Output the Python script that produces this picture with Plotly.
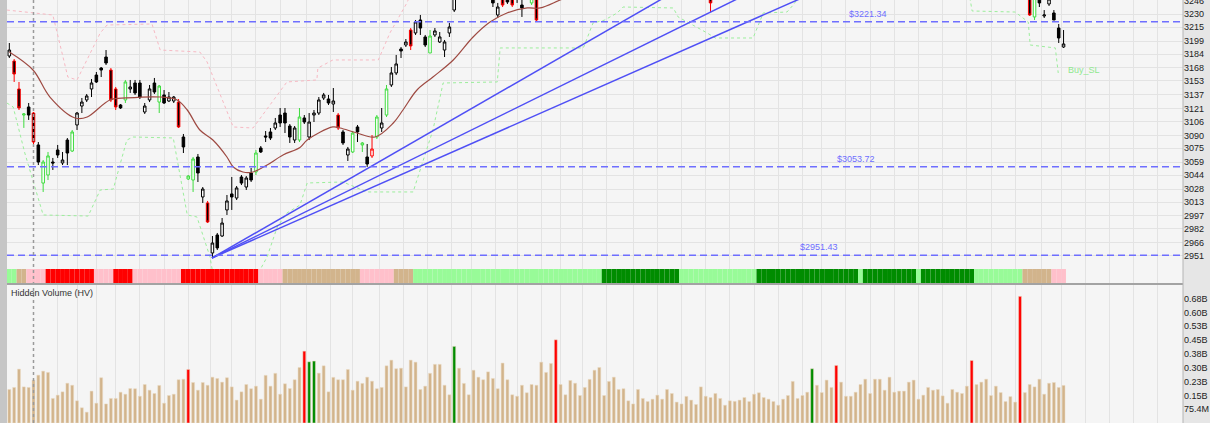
import plotly.graph_objects as go

# price bars, one value per bar; None = bar sits above the visible price range
opens = [
    3181.7, 3175.9, 3143.6, 3113.5, 3122.8, 3115.8, 3078.9, 3034.9, 3044.2, 3059.2,
    3073.1, 3058.1, 3084.6, 3071.9, 3102.0, 3123.9, 3130.9, 3143.6, 3159.7, 3167.8,
    3180.5, 3165.5, 3143.6, 3125.1, 3130.9, 3143.6, 3150.5, 3150.5, 3117.0, 3130.9,
    3150.5, 3128.5, 3136.7, 3129.7, 3129.7, 3128.5, 3088.1, 3039.6, 3038.4, 3065.0,
    3018.8, 3011.9, 2954.1, 2974.9, 2973.7, 3003.8, 3022.3, 3017.6, 3041.9, 3030.3,
    3046.5, 3047.7, 3075.4, 3089.3, 3093.9, 3098.5, 3113.5, 3115.8, 3100.8, 3084.6,
    3084.6, 3110.1, 3088.1, 3113.5, 3115.8, 3133.2, 3132.0, 3126.2, 3113.5, 3093.9,
    3067.3, 3070.8, 3099.7, 3078.9, 3065.0, 3066.2, 3088.1, 3098.5, 3113.5, 3148.2,
    3162.1, 3189.8, 3194.4, 3211.7, 3208.3, 3223.3, 3203.7, 3185.2, 3206.0, 3197.9,
    3188.6, 3208.3, 3234.8,
] + [None] * 7 + [
    3250.0, 3229.1, 3252.0, 3250.0, 3255.0, 3252.0, 3240.6, None, 3243.0, 3258.0,
] + [None] * 35 + [3252.0] + [None] * 65 + [
    3262.0, 3226.8, 3247.0, 3227.9, 3241.8, 3231.4, 3214.0, 3192.1,
]
highs = [
    3196.7, 3178.2, 3151.7, 3115.8, 3127.4, 3117.0, 3082.3, 3061.5, 3070.8, 3063.9,
    3078.9, 3070.8, 3086.9, 3096.2, 3117.0, 3133.2, 3137.8, 3155.1, 3163.2, 3169.0,
    3188.6, 3167.8, 3145.9, 3126.2, 3154.0, 3154.0, 3154.0, 3154.0, 3127.4, 3148.2,
    3156.3, 3148.2, 3142.4, 3140.1, 3135.5, 3132.0, 3091.6, 3044.2, 3065.0, 3068.5,
    3030.3, 3014.2, 2973.7, 2977.2, 2994.5, 3021.1, 3041.9, 3031.5, 3044.2, 3043.0,
    3052.3, 3073.1, 3077.7, 3095.0, 3098.5, 3110.1, 3121.6, 3121.6, 3103.1, 3100.8,
    3121.6, 3113.5, 3115.8, 3119.3, 3134.3, 3139.0, 3136.7, 3144.7, 3115.8, 3096.2,
    3076.6, 3095.0, 3102.0, 3082.3, 3080.0, 3090.4, 3113.5, 3121.6, 3148.2, 3169.0,
    3182.9, 3192.1, 3201.3, 3214.0, 3223.3, 3229.1, 3206.0, 3211.7, 3214.0, 3209.4,
    3200.2, 3219.8, 3256.0,
] + [None] * 7 + [
    3256.0, 3243.0, 3255.0, 3254.0, 3258.0, 3256.0, 3248.0, None, 3258.0, 3262.0,
] + [None] * 35 + [3256.0] + [None] * 65 + [
    3266.0, 3254.0, 3250.0, 3234.8, 3250.0, 3234.8, 3218.7, 3211.7,
]
lows = [
    3179.4, 3151.7, 3119.3, 3098.6, 3107.8, 3078.9, 3055.7, 3024.6, 3038.4, 3050.0,
    3063.9, 3055.7, 3055.7, 3070.8, 3096.2, 3115.8, 3128.5, 3134.3, 3150.5, 3157.4,
    3171.3, 3128.5, 3119.3, 3120.5, 3127.4, 3139.0, 3136.7, 3132.0, 3114.7, 3128.5,
    3137.8, 3115.8, 3126.2, 3128.5, 3127.4, 3098.5, 3069.6, 3038.4, 3024.6, 3036.1,
    3011.9, 2988.7, 2948.3, 2957.5, 2972.6, 2998.0, 3003.8, 3015.3, 3032.6, 3026.9,
    3036.1, 3044.2, 3069.6, 3082.3, 3084.6, 3096.2, 3099.7, 3092.7, 3081.2, 3081.2,
    3082.3, 3103.1, 3084.6, 3105.4, 3113.5, 3130.9, 3125.1, 3117.0, 3096.2, 3078.9,
    3060.4, 3069.6, 3082.3, 3070.8, 3053.5, 3063.9, 3085.8, 3093.9, 3111.2, 3145.9,
    3159.7, 3179.4, 3192.1, 3188.6, 3206.0, 3206.0, 3192.1, 3185.2, 3203.7, 3196.7,
    3180.5, 3203.7, 3232.5,
] + [None] * 7 + [
    3238.3, 3225.6, 3238.3, 3241.8, 3238.3, 3243.0, 3226.8, None, 3240.6, 3221.0,
] + [None] * 35 + [3232.5] + [None] * 65 + [
    3227.9, 3223.3, 3238.3, 3225.6, 3239.5, 3223.3, 3196.7, 3191.0,
]
closes = [
    3188.6, 3160.9, 3121.7, 3114.7, 3113.5, 3082.3, 3059.2, 3059.2, 3066.2, 3058.1,
    3067.3, 3061.5, 3069.6, 3093.9, 3115.8, 3128.5, 3135.5, 3150.5, 3151.7, 3165.5,
    3173.6, 3130.9, 3122.8, 3121.7, 3151.7, 3145.9, 3139.0, 3134.3, 3123.9, 3143.6,
    3140.1, 3147.0, 3127.4, 3134.3, 3134.3, 3099.7, 3076.6, 3043.0, 3062.7, 3046.5,
    3028.0, 2989.9, 2965.6, 2959.9, 2988.7, 3014.2, 3018.8, 3029.2, 3034.9, 3040.7,
    3038.4, 3069.6, 3070.8, 3088.1, 3086.9, 3104.3, 3104.3, 3104.3, 3088.1, 3098.5,
    3111.2, 3105.4, 3105.4, 3115.8, 3130.9, 3136.7, 3127.4, 3129.7, 3098.5, 3081.2,
    3074.2, 3092.7, 3093.9, 3081.2, 3056.9, 3074.2, 3111.2, 3104.3, 3143.6, 3162.1,
    3172.5, 3187.5, 3197.9, 3193.3, 3221.0, 3214.0, 3194.4, 3204.8, 3210.6, 3203.7,
    3197.9, 3215.2, 3252.0,
] + [None] * 7 + [
    3243.0, 3238.3, 3240.6, 3244.1, 3240.6, 3248.0, 3237.2, None, 3255.0, 3223.3,
] + [None] * 35 + [3243.0] + [None] * 65 + [
    3229.1, 3250.0, 3243.0, 3229.1, 3247.5, 3223.3, 3202.5, 3195.6,
]

# bars drawn with a red / green outline instead of black
red_edge = [1, 2, 5, 21, 22, 35, 41, 68, 75, 83, 102, 104, 109, 145, 211]
green_edge = [3, 7, 8, 13, 24, 31, 37, 38, 51, 60, 71, 73, 76, 78, 87, 108, 212]

# moving average, read as vertices (bar, price)
ma_bar = [0, 4.9, 8.4, 13.6, 16.1, 20.8, 24.3, 31.2, 34.7, 36.8, 39.4, 42.1, 45.0,
          46.3, 48.3, 50.4, 53.3, 56.6, 60.1, 61.6, 66.9, 68.4, 71.9, 75.6, 79.4,
          81.4, 84.3, 87.6, 91.8, 95.9, 99.4, 102.9, 107.1, 109.8, 113.9, 118]
ma_price = [3186.3, 3165.5, 3134.3, 3110.1, 3111.2, 3130.9, 3133.2, 3134.3, 3130.9,
            3119.3, 3096.2, 3084.6, 3065.0, 3053.5, 3047.7, 3047.7, 3055.8, 3067.3,
            3076.0, 3084.6, 3099.7, 3098.5, 3092.7, 3088.1, 3104.3, 3119.3, 3142.4,
            3157.4, 3177.1, 3203.7, 3221.0, 3231.4, 3237.2, 3237.2, 3246.4, 3255.6]

# dotted stop lines (bar, price)
sell_bar = [-0.5, 9.0, 12.1, 14.0, 18.8, 20.2, 29.5, 31.2, 39.4, 40.9, 46.3, 50.4,
            57.4, 63.6, 63.8, 66.9, 76.3, 78.7, 82.2, 82.9]
sell_price = [3234.8, 3229.1, 3157.4, 3154.0, 3208.3, 3217.5, 3218.7, 3188.6, 3186.3,
              3174.8, 3099.7, 3098.5, 3151.7, 3154.0, 3167.8, 3177.1, 3177.1, 3208.3,
              3242.9, 3252.0]
buy_bar = [-0.5, 0.8, 3.2, 7.0, 16.3, 18.8, 21.5, 24.3, 25.6, 33.9, 36.8, 38.8, 41.5,
           42.1, 51.4, 53.3, 55.4, 57.4, 60.1, 61.6, 69.0, 74.0, 83.5, 87.6, 89.7,
           100.9, 101.5, 118.7, 120.7, 123.0, 125.7, 126.9, 137.3, 138.3, 144.3, 146.0,
           153.8, 155.9, 160.8, 162.1, 163.5, 197.7, 198.7, 199.1, 208.0, 210.7, 211.1,
           216.3, 216.9]
buy_price = [3127.4, 3122.8, 3069.6, 2998.0, 2996.8, 3026.9, 3028.0, 3084.6, 3088.1,
             3087.0, 2998.0, 2995.7, 2949.5, 2930.0, 2930.0, 2949.5, 2984.1, 3000.3,
             3009.5, 3035.0, 3036.1, 3024.6, 3024.6, 3096.2, 3150.5, 3151.7, 3191.0,
             3191.0, 3219.8, 3223.0, 3231.4, 3238.3, 3237.2, 3226.8, 3208.3, 3202.5,
             3202.5, 3231.4, 3232.5, 3240.6, 3252.0, 3252.0, 3246.4, 3233.7, 3232.5,
             3221.0, 3194.4, 3191.0, 3162.1]

# fan lines from the swing low
fan_origin = (41.9, 2948.3)
fan_ends = [(136.3, 3252.0), (152.1, 3252.0), (165.2, 3252.0)]

levels = [3221.34, 3053.72, 2951.43]
level_label_bar = [173.2, 170.8, 163.1]

# hidden volume, millions
volumes = [
    183, 194, 294, 197, 194, 234, 261, 283, 276, 134,
    152, 170, 217, 206, 121, 83, 59, 174, 108, 247,
    104, 134, 134, 168, 157, 188, 187, 146, 210, 179,
    161, 205, 108, 150, 157, 236, 239, 292, 221, 179,
    221, 206, 250, 243, 223, 247, 197, 125, 170, 210,
    187, 201, 130, 260, 201, 271, 157, 214, 188, 236,
    303, 392, 334, 338, 272, 312, 170, 249, 236, 236,
    292, 179, 228, 216, 250, 228, 187, 194, 312, 343,
    296, 299, 197, 343, 332, 183, 201, 271, 320, 320,
    206, 154, 418, 299, 216, 154, 288, 250, 236, 279,
    243, 187, 327, 236, 154, 146, 206, 165, 210, 206,
    332, 276, 325, 454, 210, 154, 232, 217, 150, 194,
    238, 288, 303, 150, 227, 250, 183, 187, 121, 104,
    183, 134, 117, 130, 152, 130, 183, 161, 114, 104,
    145, 125, 101, 197, 146, 139, 161, 134, 97, 121,
    118, 125, 139, 117, 157, 165, 139, 130, 117, 97,
    130, 150, 227, 134, 150, 168, 296, 206, 166, 234,
    194, 314, 223, 146, 146, 168, 210, 239, 161, 239,
    239, 179, 250, 168, 174, 174, 223, 234, 130, 152,
    194, 179, 183, 148, 108, 183, 168, 161, 201, 341,
    210, 223, 239, 150, 201, 166, 117, 144, 114, 691,
    166, 210, 197, 239, 157, 217, 221, 194, 205,
]
vol_red = [37, 61, 113, 171, 199, 209]
vol_green = [62, 63, 92, 166]

# trend band under the price pane, as runs of bars
band_colors = ["#98fb98", "#d2b48c", "#ffc0cb", "#ff0000", "#ffc0cb", "#ff0000",
               "#ffc0cb", "#ff0000", "#ffc0cb", "#d2b48c", "#ffc0cb", "#d2b48c",
               "#98fb98", "#008c00", "#98fb98", "#008c00", "#98fb98", "#008c00",
               "#98fb98", "#008c00", "#98fb98", "#d2b48c", "#ffc0cb"]
band_lengths = [2, 2, 4, 10, 4, 4, 10, 16, 5, 16, 7, 4, 39, 16, 16, 21, 1, 11, 1, 11,
                10, 6, 3]

price_ticks = [2951, 2966, 2982, 2997, 3013, 3028, 3044, 3059, 3075, 3090,
               3106, 3121, 3137, 3153, 3168, 3184, 3199, 3215, 3230, 3246]
vol_ticks = [75.4, 150.8, 226.2, 301.6, 377.0, 452.4, 527.8, 603.2, 678.6]
vol_labels = ["75.4M", "0.15B", "0.23B", "0.30B", "0.38B", "0.45B", "0.53B",
              "0.60B", "0.68B"]
grid_bars = [10, 14, 18, 22, 27, 32, 37, 41.5, 46, 51, 56, 61.5, 66.5, 71, 76.5,
             81.5, 86.5, 91.5, 95.5, 100.5, 105, 110, 114, 118.5, 123.5, 129, 134,
             139, 144, 149, 154, 159, 164, 168, 173, 178, 183, 188, 193, 198, 203,
             208, 213.5, 217.5, 222.5, 227.5, 232.5, 237.5]
marker_bar = 5

bars = list(range(len(closes)))
GRID = "#e3e3e3"

fig = go.Figure()

# candles, one trace per outline colour
groups = {"black": [], "#ff0000": [], "#3fdc3f": []}
for i in bars:
    if closes[i] is None:
        continue
    if i in red_edge:
        groups["#ff0000"].append(i)
    elif i in green_edge:
        groups["#3fdc3f"].append(i)
    else:
        groups["black"].append(i)

for edge, idx in groups.items():
    fig.add_trace(go.Candlestick(
        x=idx,
        open=[opens[i] for i in idx], high=[highs[i] for i in idx],
        low=[lows[i] for i in idx], close=[closes[i] for i in idx],
        increasing=dict(fillcolor="white", line=dict(color=edge, width=1)),
        decreasing=dict(fillcolor="black", line=dict(color=edge, width=1)),
        whiskerwidth=0, showlegend=False, xaxis="x", yaxis="y"))

fig.add_trace(go.Scatter(x=ma_bar, y=ma_price, mode="lines", line_shape="spline",
                         line=dict(color="#9e4a42", width=1.2), xaxis="x", yaxis="y"))
fig.add_trace(go.Scatter(x=sell_bar, y=sell_price, mode="lines",
                         line=dict(color="#f7b9c3", width=1, dash="dot"),
                         xaxis="x", yaxis="y"))
fig.add_trace(go.Scatter(x=buy_bar, y=buy_price, mode="lines",
                         line=dict(color="#9cee9c", width=1, dash="dot"),
                         xaxis="x", yaxis="y"))
for ex, ey in fan_ends:
    fig.add_trace(go.Scatter(x=[fan_origin[0], ex], y=[fan_origin[1], ey], mode="lines",
                             line=dict(color="#4f4ff5", width=1.5),
                             xaxis="x", yaxis="y"))

# trend band
band = []
for c, k in zip(band_colors, band_lengths):
    band += [c] * k
fig.add_trace(go.Bar(x=bars, y=[1] * len(band), width=1, marker_color=band,
                     marker_line_width=0, xaxis="x2", yaxis="y2"))

# hidden volume
vcol = ["#ff0000" if i in vol_red else "#008c00" if i in vol_green else "#d2b48c"
        for i in bars]
fig.add_trace(go.Bar(x=bars, y=volumes, width=0.6, marker_color=vcol,
                     marker_line=dict(color="#eadbc3", width=0.5),
                     xaxis="x3", yaxis="y3"))

shapes = []
for lv in levels:
    shapes.append(dict(type="line", xref="x domain", x0=0, x1=1, yref="y", y0=lv, y1=lv,
                       line=dict(color="#6e6eff", width=1.5, dash="7px,4px")))
shapes.append(dict(type="line", xref="x", x0=marker_bar, x1=marker_bar, yref="paper",
                   y0=0, y1=1, line=dict(color="#9a9a9a", width=1.5, dash="dot")))
shapes.append(dict(type="line", xref="paper", x0=0, x1=1, yref="paper",
                   y0=0.3286, y1=0.3286, line=dict(color="#a3a3a3", width=2)))
shapes.append(dict(type="rect", xref="paper", x0=-7 / 1176, x1=0, yref="paper",
                   y0=0, y1=1, fillcolor="#c6c6c6", line_width=0))
shapes.append(dict(type="line", xref="paper", x0=1, x1=1, yref="paper", y0=0, y1=1,
                   line=dict(color="#b4b4b4", width=1)))

annotations = []
for lv, lb in zip(levels, level_label_bar):
    annotations.append(dict(x=lb, y=lv, xref="x", yref="y", text="$%.2f" % lv,
                            showarrow=False, xanchor="left", yanchor="bottom", yshift=1,
                            font=dict(color="#6e6eff", size=9)))
annotations.append(dict(x=218.5, y=3165, xref="x", yref="y", text="Buy_SL",
                        showarrow=False, xanchor="left", yanchor="middle",
                        font=dict(color="#8fe88f", size=9)))
annotations.append(dict(x=0.002, y=0.3235, xref="paper", yref="paper",
                        text="Hidden Volume (HV)", showarrow=False, xanchor="left",
                        yanchor="top", font=dict(color="#333333", size=9)))

xcommon = dict(range=[-0.48, 242.7], tickvals=grid_bars, showticklabels=False,
               showgrid=True, gridcolor=GRID, zeroline=False, ticks="")

fig.update_layout(
    width=1210, height=423,
    margin=dict(l=7, r=27, t=0, b=0, pad=0),
    paper_bgcolor="#e6e6e6",
    plot_bgcolor="#f5f5f5",
    showlegend=False,
    boxgap=0.25,
    font=dict(family="Liberation Sans", size=9, color="#222222"),
    shapes=shapes,
    annotations=annotations,
    xaxis=dict(domain=[0, 1], anchor="y", rangeslider=dict(visible=False), **xcommon),
    yaxis=dict(domain=[0.3641, 1], anchor="x", side="right", range=[2935.6, 3246.4],
               tickvals=price_ticks, gridcolor=GRID, zeroline=False, ticks="",
               automargin=False, ticklabeloverflow="allow"),
    xaxis2=dict(domain=[0, 1], anchor="y2", matches="x", **xcommon),
    yaxis2=dict(domain=[0.331, 0.3641], anchor="x2", range=[0, 1], visible=False),
    xaxis3=dict(domain=[0, 1], anchor="y3", matches="x", **xcommon),
    yaxis3=dict(domain=[0, 0.3262], anchor="x3", side="right", range=[0, 753],
                tickvals=vol_ticks, ticktext=vol_labels, showgrid=False,
                zeroline=False, ticks="", automargin=False, ticklabeloverflow="allow"),
)

# the page body has a default margin; drop it so the chart sits at the window corner
fig.write_html("out.html", config={"displayModeBar": False},
               post_script="document.body.style.margin='0';")
